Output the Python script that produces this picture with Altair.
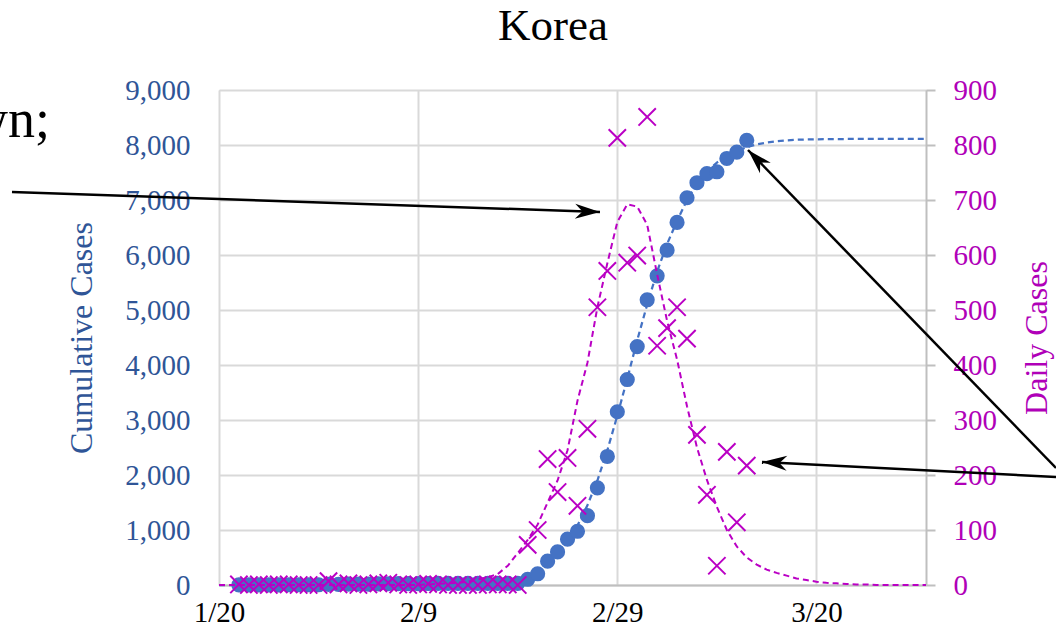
import altair as alt
import pandas as pd

# ---------------- data ----------------
OBS_START = "2020-01-22"
cumulative = [1, 1, 2, 2, 3, 4, 4, 4, 4, 11,
              12, 15, 15, 16, 19, 23, 24, 24, 25, 27,
              28, 28, 28, 28, 28, 29, 30, 31, 31, 104,
              204, 433, 602, 833, 977, 1261, 1766, 2337, 3150, 3736,
              4335, 5186, 5621, 6088, 6593, 7041, 7314, 7478, 7513, 7755,
              7869, 8086]
daily = [1, 0, 1, 0, 1, 1, 0, 0, 0, 7,
         1, 3, 0, 1, 3, 4, 1, 0, 1, 2,
         1, 0, 0, 0, 0, 1, 1, 1, 0, 73,
         100, 229, 169, 231, 144, 284, 505, 571, 813, 586,
         599, 851, 435, 467, 505, 448, 273, 164, 35, 242,
         114, 217]

FIT_START = "2020-01-20"
cum_fit = [0, 0, 0, 0, 0, 0, 0, 0, 0, 0,
           0, 0, 0, 0, 1, 1, 1, 1, 2, 2,
           3, 4, 5, 6, 8, 10, 14, 20, 30, 48,
           80, 150, 250, 400, 580, 800, 1080, 1450, 1900, 2450,
           3080, 3750, 4450, 5100, 5700, 6200, 6620, 7000, 7300, 7520,
           7680, 7800, 7890, 7960, 8010, 8045, 8070, 8085, 8095, 8100,
           8104, 8106, 8108, 8109, 8110, 8110, 8110, 8110, 8110, 8110, 8110, 8110]
daily_fit = [0, 0, 0, 0, 0, 0, 0, 0, 0, 0,
             0, 0, 0, 0, 0, 0, 0, 0, 0, 0,
             0, 1, 2, 3, 4, 6, 10, 14, 20, 35,
             58, 82, 110, 150, 190, 245, 335, 404, 505, 585,
             660, 692, 688, 655, 565, 480, 410, 325, 250, 191,
             142, 100, 70, 50, 37, 28, 22, 17, 12, 9,
             6, 4, 3, 2, 1, 1, 0, 0, 0, 0, 0, 0]

x_domain = [(2020, 1, 20), (2020, 3, 31)]
x_ticks = [(2020, 1, 20), (2020, 2, 9), (2020, 2, 29), (2020, 3, 20)]
left_ticks = [0, 1000, 2000, 3000, 4000, 5000, 6000, 7000, 8000, 9000]
right_ticks = [0, 100, 200, 300, 400, 500, 600, 700, 800, 900]

# ---------------- frames ----------------
def dates(start, n):
    return pd.date_range(start, periods=n, freq="D").strftime("%Y-%m-%dT00:00:00").tolist()

obs_cum = pd.DataFrame({"date": dates(OBS_START, len(cumulative)), "cases": cumulative})
obs_daily = pd.DataFrame({"date": dates(OBS_START, len(daily)), "cases": daily})
fit_cum = pd.DataFrame({"date": dates(FIT_START, len(cum_fit)), "cases": cum_fit})
fit_daily = pd.DataFrame({"date": dates(FIT_START, len(daily_fit)), "cases": daily_fit})

FONT = "Liberation Serif"
BLUE = "#4472C4"
BLUE_TXT = "#2F5597"
MAG = "#BA00C4"
MAG_TXT = "#B000B8"
GRID = "#D9D9D9"
AXIS = "#BFBFBF"

def dt(t):
    return alt.DateTime(year=t[0], month=t[1], date=t[2])

x_enc = alt.X(
    "date:T",
    title=None,
    scale=alt.Scale(domain=[dt(t) for t in x_domain]),
    axis=alt.Axis(values=[dt(t) for t in x_ticks], format="%-m/%-d",
                  labelFont=FONT, labelFontSize=29, labelColor="black",
                  labelPadding=13, ticks=False, tickSize=0,
                  domain=True, domainColor=AXIS, domainWidth=2,
                  grid=True, gridColor=GRID, gridWidth=2,
                  labelOverlap=False, labelFlush=False),
)

y_left = alt.Y(
    "cases:Q",
    scale=alt.Scale(domain=[0, 9000], nice=False),
    axis=alt.Axis(values=left_ticks, format=",d", orient="left",
                  labelFont=FONT, labelFontSize=29, labelColor=BLUE_TXT,
                  labelPadding=29, ticks=False, tickSize=0, domain=False,
                  grid=True, gridColor=GRID, gridWidth=2,
                  title="Cumulative Cases", titleFont=FONT, titleFontSize=32,
                  titleFontWeight="normal", titleColor=BLUE_TXT, titlePadding=26),
)

y_right = alt.Y(
    "cases:Q",
    scale=alt.Scale(domain=[0, 900], nice=False),
    axis=alt.Axis(values=right_ticks, format="d", orient="right",
                  labelFont=FONT, labelFontSize=29, labelColor=MAG_TXT,
                  labelPadding=18, ticks=True, tickSize=9, tickColor=AXIS, tickWidth=2,
                  domain=True, domainColor=AXIS, domainWidth=2, grid=False,
                  title="Daily Cases", titleFont=FONT, titleFontSize=32,
                  titleFontWeight="normal", titleColor=MAG_TXT, titlePadding=25,
                  titleAngle=270, titleBaseline="top"),
)

cum_line = alt.Chart(fit_cum).mark_line(color=BLUE, strokeWidth=2.25, strokeDash=[6, 4]).encode(x=x_enc, y=y_left)
cum_pts = alt.Chart(obs_cum).mark_point(shape="circle", filled=True, color=BLUE, opacity=1, size=230).encode(x=x_enc, y=y_left)
left = alt.layer(cum_line, cum_pts)

daily_line = alt.Chart(fit_daily).mark_line(color=MAG, strokeWidth=2, strokeDash=[6, 4]).encode(x=x_enc, y=y_right)
daily_pts = alt.Chart(obs_daily).mark_point(shape="M-1,-1L1,1M-1,1L1,-1", filled=False, color=MAG,
                                            opacity=1, size=300, strokeWidth=2).encode(x=x_enc, y=y_right)
right = alt.layer(daily_line, daily_pts)

# ---------------- annotations (pixel positions relative to the plot area) ----------------
one = alt.Data(values=[{"a": 1}])
arrows = [  # tail x, tail y, tip x, tip y, angle
    (-207, 102, 381, 122, 1.95),
    (837, 387, 543, 372, 182.9),
    (837, 378, 529, 60, 225.9),
]
ann = []
for tx, ty, hx, hy, ang in arrows:
    ann.append(alt.Chart(one).mark_rule(color="black", strokeWidth=2.5).encode(
        x=alt.value(tx), y=alt.value(ty), x2=alt.value(hx), y2=alt.value(hy)))
    ann.append(alt.Chart(one).mark_point(shape="M0,0L-1,-0.3L-0.7,0L-1,0.3Z", filled=True,
                                         color="black", opacity=1, size=2500, strokeWidth=0).encode(
        x=alt.value(hx), y=alt.value(hy), angle=alt.value(ang)))
ann.append(alt.Chart(one).mark_text(text="wn;", font=FONT, fontSize=54, align="right",
                                    baseline="alphabetic", color="black").encode(
    x=alt.value(-169), y=alt.value(47)))
ann.append(alt.Chart(one).mark_text(text="Korea", font=FONT, fontSize=45, align="center",
                                    baseline="alphabetic", color="black").encode(
    x=alt.value(334), y=alt.value(-50)))

chart = alt.layer(left, right, *ann).resolve_scale(y="independent").properties(
    width=707, height=495,
    autosize=alt.AutoSizeParams(type="none"),
    padding={"left": 219, "top": 90, "right": 130, "bottom": 53},
).configure_view(fill="#F0F0F0", stroke=None).configure(background="white")

chart.save("out.html", embed_options={"renderer": "svg", "actions": False})
